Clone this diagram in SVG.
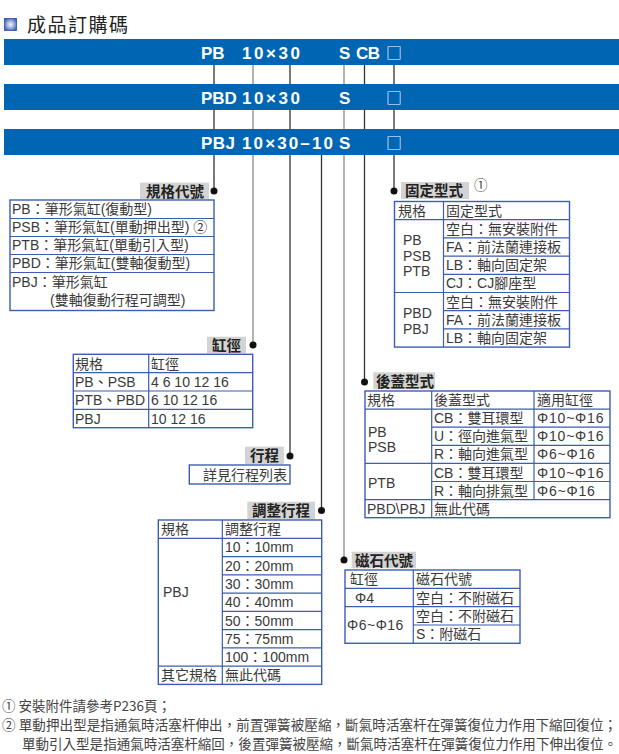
<svg xmlns="http://www.w3.org/2000/svg" width="619" height="754" viewBox="0 0 619 754">
<defs>
<radialGradient id="ig" cx="50%" cy="50%" r="65%">
<stop offset="0" stop-color="#f2f5ff"/><stop offset="0.45" stop-color="#9fb2e2"/><stop offset="1" stop-color="#2c4da4"/>
</radialGradient>
</defs>
<style>
.bar{fill:#0066b3}
.bt{font-family:"Liberation Sans","Noto Sans CJK TC",sans-serif;font-weight:bold;font-size:17px;fill:#fff}
.bx{font-family:"Noto Sans CJK TC",sans-serif;font-size:16px;fill:#fff}
.lb{fill:#d3d3d3}
.lt{font-family:"Noto Sans CJK TC",sans-serif;font-weight:bold;font-size:14.5px;fill:#222}
.tb{fill:#fff;stroke:#3b5db3;stroke-width:1.4}
.ln{stroke:#3b5db3;stroke-width:1.2;fill:none}
.t{font-family:"Liberation Sans","Noto Sans CJK TC",sans-serif;font-size:14px;fill:#3a3a3a}
.c{stroke:#333;stroke-width:1.3;fill:none}
.c2{stroke:#8a8a8a;stroke-width:1.3;fill:none}
.dot{fill:#111}
.fn{font-family:"Noto Sans CJK TC",sans-serif;font-size:13.5px;fill:#444}
.ttl{font-family:"Noto Sans CJK TC",sans-serif;font-size:19px;fill:#222;letter-spacing:1.5px}
</style>
<rect width="619" height="754" fill="#fff"/>

<g id="title">
<rect x="4.5" y="18.5" width="12" height="12" fill="url(#ig)" stroke="#2c4da4" stroke-width="0.8"/>
<text class="ttl" x="27" y="31.5">成品訂購碼</text>
</g>

<g id="bar1">
<rect class="bar" x="4" y="39" width="615" height="26"/>
<text class="bt" x="201" y="59.3">PB</text>
<text class="bt" x="242" y="59.3" textLength="58">10×30</text>
<text class="bt" x="339" y="59.3">S</text>
<text class="bt" x="356" y="59.3" textLength="24">CB</text>
<text class="bx" x="386" y="59">□</text>
</g>
<g id="bar2">
<rect class="bar" x="4" y="84" width="615" height="26"/>
<text class="bt" x="201" y="104.3">PBD</text>
<text class="bt" x="242" y="104.3" textLength="58">10×30</text>
<text class="bt" x="339" y="104.3">S</text>
<text class="bx" x="386" y="104">□</text>
</g>
<g id="bar3">
<rect class="bar" x="4" y="129" width="615" height="26"/>
<text class="bt" x="201" y="149.3" textLength="34">PBJ</text>
<text class="bt" x="242" y="149.3" textLength="91">10×30–10</text>
<text class="bt" x="339" y="149.3">S</text>
<text class="bx" x="386" y="149">□</text>
</g>

<g id="connectors">
<path class="c" d="M214 65V84M214 110V129M214 155V191"/>
<path class="c2" d="M253 65V84M253 110V129M253 155V345"/>
<path class="c" d="M290 65V84M290 110V129M290 155V456"/>
<path class="c" d="M321.5 155V510.5"/>
<path class="c2" d="M344 65V84M344 110V129M344 155V560"/>
<path class="c" d="M364.5 65V84M364.5 110V129M364.5 155V382"/>
<path class="c" d="M394 65V84M394 110V129M394 155V191"/>
<circle class="dot" cx="214" cy="191" r="3.5"/>
<circle class="dot" cx="253" cy="345" r="3.5"/>
<circle class="dot" cx="290" cy="456" r="3.5"/>
<circle class="dot" cx="321.5" cy="510.5" r="3.5"/>
<circle class="dot" cx="344" cy="560" r="3.5"/>
<circle class="dot" cx="364.5" cy="382" r="3.5"/>
<circle class="dot" cx="394" cy="191" r="3.5"/>
</g>

<g id="spec-code">
<rect class="lb" x="140" y="182.7" width="69" height="16.5"/>
<text class="lt" x="146" y="196.5">規格代號</text>
<rect class="tb" x="10" y="200" width="204" height="110.5"/>
<path class="ln" d="M10 218.5H214M10 236.5H214M10 254.5H214M10 272.5H214"/>
<text class="t" x="12" y="214.2">PB：筆形氣缸(復動型)</text>
<text class="t" x="12" y="232.2">PSB：筆形氣缸(單動押出型) ②</text>
<text class="t" x="12" y="250.2">PTB：筆形氣缸(單動引入型)</text>
<text class="t" x="12" y="268.2">PBD：筆形氣缸(雙軸復動型)</text>
<text class="t" x="12" y="287">PBJ：筆形氣缸</text>
<text class="t" x="50" y="305">(雙軸復動行程可調型)</text>
</g>

<g id="mount-type">
<rect class="lb" x="401" y="182" width="68" height="17"/>
<text class="lt" x="405" y="196">固定型式</text>
<text class="fn" x="474" y="190" font-size="14">①</text>
<rect class="tb" x="394.5" y="201.5" width="175" height="145.6"/>
<path class="ln" d="M443.5 201.5V347.1M394.5 219.7H569.5M443.5 237.9H569.5M443.5 256.1H569.5M443.5 274.3H569.5M394.5 292.5H569.5M443.5 310.7H569.5M443.5 328.9H569.5"/>
<text class="t" x="398" y="215.6">規格</text>
<text class="t" x="446" y="215.6">固定型式</text>
<text class="t" x="446" y="233.8">空白：無安裝附件</text>
<text class="t" x="446" y="252">FA：前法蘭連接板</text>
<text class="t" x="446" y="270.2">LB：軸向固定架</text>
<text class="t" x="446" y="288.4">CJ：CJ腳座型</text>
<text class="t" x="446" y="306.6">空白：無安裝附件</text>
<text class="t" x="446" y="324.8">FA：前法蘭連接板</text>
<text class="t" x="446" y="343">LB：軸向固定架</text>
<text class="t" x="403" y="245">PB</text>
<text class="t" x="403" y="260.5">PSB</text>
<text class="t" x="403" y="276">PTB</text>
<text class="t" x="403" y="318">PBD</text>
<text class="t" x="403" y="334">PBJ</text>
</g>

<g id="bore">
<rect class="lb" x="207" y="336.7" width="39" height="16.6"/>
<text class="lt" x="212" y="350.5">缸徑</text>
<rect class="tb" x="73.3" y="354.3" width="179.4" height="73.4"/>
<path class="ln" d="M148.7 354.3V427.7M73.3 372.7H252.7M73.3 391H252.7M73.3 409.3H252.7"/>
<text class="t" x="75" y="368.5">規格</text>
<text class="t" x="151" y="368.5">缸徑</text>
<text class="t" x="75" y="386.8" font-size="13.5">PB、PSB</text>
<text class="t" x="151" y="386.8" font-size="13.5">4 6 10 12 16</text>
<text class="t" x="75" y="405.1" font-size="13.5">PTB、PBD</text>
<text class="t" x="151" y="405.1" font-size="13.5">6 10 12 16</text>
<text class="t" x="75" y="423.5" font-size="13.5">PBJ</text>
<text class="t" x="151" y="423.5" font-size="13.5">10 12 16</text>
</g>

<g id="stroke">
<rect class="lb" x="245" y="446.7" width="39" height="17.3"/>
<text class="lt" x="250" y="461">行程</text>
<rect class="tb" x="189.3" y="465" width="100.7" height="19"/>
<text class="t" x="203" y="479.8" font-size="14.5">詳見行程列表</text>
</g>

<g id="adjust-stroke">
<rect class="lb" x="247.3" y="501.7" width="67.7" height="17.6"/>
<text class="lt" x="252" y="516">調整行程</text>
<rect class="tb" x="158.3" y="520" width="163.4" height="164.4"/>
<path class="ln" d="M222.3 520V684.4M158.3 538.3H321.7M222.3 556.6H321.7M222.3 574.8H321.7M222.3 593.1H321.7M222.3 611.4H321.7M222.3 629.6H321.7M222.3 647.9H321.7M158.3 666.2H321.7"/>
<text class="t" x="161" y="534">規格</text>
<text class="t" x="225" y="534">調整行程</text>
<text class="t" x="225" y="552.4">10：10mm</text>
<text class="t" x="225" y="570.7">20：20mm</text>
<text class="t" x="225" y="588.9">30：30mm</text>
<text class="t" x="225" y="607.2">40：40mm</text>
<text class="t" x="225" y="625.5">50：50mm</text>
<text class="t" x="225" y="643.8">75：75mm</text>
<text class="t" x="225" y="662">100：100mm</text>
<text class="t" x="161" y="680.3">其它規格</text>
<text class="t" x="225" y="680.3">無此代碼</text>
<text class="t" x="163" y="597">PBJ</text>
</g>

<g id="rear-cover">
<rect class="lb" x="373.3" y="372.3" width="61.7" height="17"/>
<text class="lt" x="376" y="386.5">後蓋型式</text>
<rect class="tb" x="365" y="391" width="245" height="126.7"/>
<path class="ln" d="M431.7 391V517.7M534 391V499.6M365 409.1H610M431.7 427.2H610M431.7 445.3H610M365 463.4H610M431.7 481.5H610M365 499.6H610"/>
<text class="t" x="367" y="405">規格</text>
<text class="t" x="434" y="405">後蓋型式</text>
<text class="t" x="537" y="405">適用缸徑</text>
<text class="t" x="434" y="423.2">CB：雙耳環型</text>
<text class="t" x="537" y="423.2" letter-spacing="0.8">Φ10~Φ16</text>
<text class="t" x="434" y="441.3">U：徑向進氣型</text>
<text class="t" x="537" y="441.3" letter-spacing="0.8">Φ10~Φ16</text>
<text class="t" x="434" y="459.4">R：軸向進氣型</text>
<text class="t" x="537" y="459.4" letter-spacing="0.8">Φ6~Φ16</text>
<text class="t" x="434" y="477.5">CB：雙耳環型</text>
<text class="t" x="537" y="477.5" letter-spacing="0.8">Φ10~Φ16</text>
<text class="t" x="434" y="495.6">R：軸向排氣型</text>
<text class="t" x="537" y="495.6" letter-spacing="0.8">Φ6~Φ16</text>
<text class="t" x="367" y="513.7">PBD\PBJ</text>
<text class="t" x="434" y="513.7">無此代碼</text>
<text class="t" x="368" y="436.7">PB</text>
<text class="t" x="368" y="451.7">PSB</text>
<text class="t" x="368" y="488">PTB</text>
</g>

<g id="magnet">
<rect class="lb" x="351.7" y="551.7" width="64.3" height="16.6"/>
<text class="lt" x="355" y="565.5">磁石代號</text>
<rect class="tb" x="345" y="570" width="175" height="73.3"/>
<path class="ln" d="M413.3 570V643.3M345 588.3H520M345 606.7H520M413.3 625H520"/>
<text class="t" x="350" y="584.2">缸徑</text>
<text class="t" x="416" y="584.2">磁石代號</text>
<text class="t" x="355" y="602.5">Φ4</text>
<text class="t" x="416" y="602.5">空白：不附磁石</text>
<text class="t" x="416" y="620.9">空白：不附磁石</text>
<text class="t" x="416" y="639.2">S：附磁石</text>
<text class="t" x="347" y="630" letter-spacing="0.5">Φ6~Φ16</text>
</g>

<g id="notes">
<text class="fn" x="2" y="711">① 安裝附件請參考P236頁；</text>
<text class="fn" x="2" y="730" textLength="615">② 單動押出型是指通氣時活塞杆伸出，前置彈簧被壓縮，斷氣時活塞杆在彈簧復位力作用下縮回復位；</text>
<text class="fn" x="22" y="748.5" textLength="595">單動引入型是指通氣時活塞杆縮回，後置彈簧被壓縮，斷氣時活塞杆在彈簧復位力作用下伸出復位。</text>
</g>
</svg>
